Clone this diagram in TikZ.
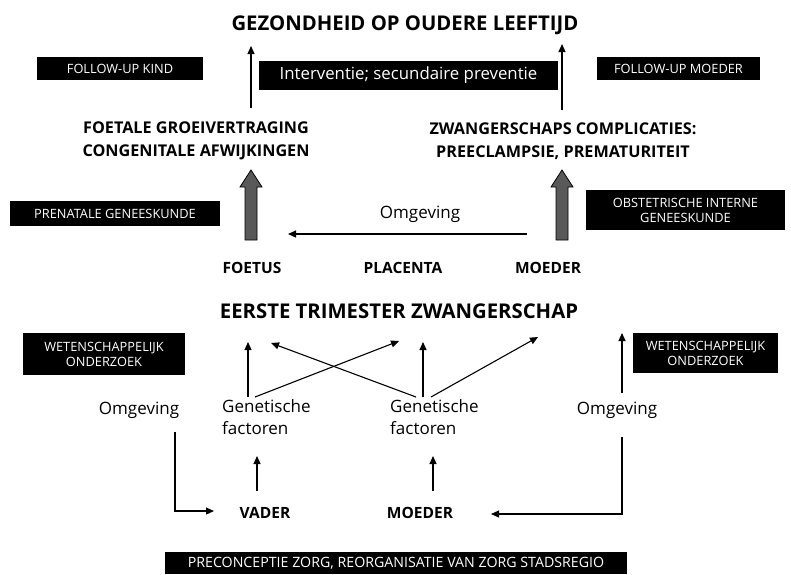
\documentclass[tikz,border=0pt]{standalone}
\usepackage{fontspec}
\setmainfont{Open Sans}
\usetikzlibrary{arrows.meta,calc}
\begin{document}
\begin{tikzpicture}[x=1pt,y=-1pt,
  blackbox/.style={fill=black,text=white,inner sep=0pt,align=center,font=\fontsize{12.8}{15}\selectfont},
  head/.style={font=\bfseries\fontsize{20.3}{24}\selectfont,inner sep=0pt},
  sub/.style={font=\bfseries\fontsize{16.2}{23}\selectfont,inner sep=0pt,align=center},
  lbl/.style={font=\fontsize{17}{22}\selectfont,inner sep=0pt},
  thin/.style={line width=1.1pt,-{Triangle[width=7pt,length=8pt]}},
  fat/.style={draw=black,line width=0.8pt,fill=black!65}]
\useasboundingbox (0,0) rectangle (791,574);
% titles
\node[head] (top) at (405,25) {GEZONDHEID OP OUDERE LEEFTIJD};
\node[blackbox,minimum width=166,minimum height=23] (fuk) at (120,68.5) {FOLLOW-UP KIND};
\node[blackbox,minimum width=299,minimum height=29,font=\fontsize{16.8}{18}\selectfont] (int) at (408.5,75.5) {Interventie; secundaire preventie};
\node[blackbox,minimum width=163,minimum height=23] (fum) at (678.5,68.5) {FOLLOW-UP MOEDER};
\node[sub] (fgv) at (196,141) {FOETALE GROEIVERTRAGING\\CONGENITALE AFWIJKINGEN};
\node[sub] (zc) at (563,141) {ZWANGERSCHAPS COMPLICATIES:\\PREECLAMPSIE, PREMATURITEIT};
% thin up arrows to top
\coordinate (a1s) at (251,108); \coordinate (a1e) at (251,46);
\coordinate (a2s) at (562,110); \coordinate (a2e) at (562,44);
\draw[thin] (a1s) -- (a1e);
\draw[thin] (a2s) -- (a2e);
% fat arrows
\foreach \xx/\nm in {251/fa, 562/fb}{
  \draw[fat] (\xx-6,240) -- (\xx-6,187) -- (\xx-11,187) -- (\xx,170) -- (\xx+11,187) -- (\xx+6,187) -- (\xx+6,240) -- cycle;
}
\node[blackbox,minimum width=210,minimum height=25] (pg) at (115,213.5) {PRENATALE GENEESKUNDE};
\node[blackbox,minimum width=199,minimum height=40] (og) at (685.5,210) {OBSTETRISCHE INTERNE\\GENEESKUNDE};
\node[lbl] (omg0) at (420,214) {Omgeving};
\coordinate (o0s) at (527,234); \coordinate (o0e) at (288,234);
\draw[thin] (o0s) -- (o0e);
\node[sub,font=\bfseries\fontsize{15.5}{23}\selectfont] (foetus) at (252,268) {FOETUS};
\node[sub,font=\bfseries\fontsize{15.5}{23}\selectfont] (plac) at (403,268) {PLACENTA};
\node[sub,font=\bfseries\fontsize{15.5}{23}\selectfont] (moe1) at (548,268) {MOEDER};
\node[head] (etz) at (399,311) {EERSTE TRIMESTER ZWANGERSCHAP};
% lower part
\node[blackbox,minimum width=162,minimum height=42] (wo1) at (104,354) {WETENSCHAPPELIJK\\ONDERZOEK};
\node[blackbox,minimum width=145,minimum height=40] (wo2) at (705.5,353) {WETENSCHAPPELIJK\\ONDERZOEK};
\node[lbl] (omg1) at (139,410) {Omgeving};
\node[lbl,align=left,anchor=north west,font=\fontsize{17}{22.5}\selectfont] (gen1) at (222,399) {Genetische\\factoren};
\node[lbl,align=left,anchor=north west,font=\fontsize{17}{22.5}\selectfont] (gen2) at (390,399) {Genetische\\factoren};
\node[lbl] (omg2) at (617,410) {Omgeving};
\node[sub,font=\bfseries\fontsize{15.5}{23}\selectfont] (vader) at (265,513) {VADER};
\node[sub,font=\bfseries\fontsize{15.5}{23}\selectfont] (moe2) at (420,513) {MOEDER};
\coordinate (g1) at (248,397); \coordinate (g1d) at (255,397);
\coordinate (g2) at (423,397); \coordinate (g2l) at (416,397); \coordinate (g2r) at (431,397);
\draw[thin] (g1) -- (248,342);
\draw[thin] (g1d) -- (399,341);
\draw[thin] (g2) -- (423,342);
\draw[thin] (g2l) -- (271,343);
\draw[thin] (g2r) -- (538,337);
\draw[thin] (622,393) -- (622,333);
\draw[thin] (175,432) -- (175,511) -- (214,511);
\draw[thin] (257,491) -- (257,456);
\draw[thin] (433,491) -- (433,456);
\draw[thin] (622,437) -- (622,514) -- (491,514);
\node[blackbox,minimum width=462,minimum height=22,font=\fontsize{14.2}{16}\selectfont] (pre) at (396,563) {PRECONCEPTIE ZORG, REORGANISATIE VAN ZORG STADSREGIO};
\end{tikzpicture}
\end{document}
